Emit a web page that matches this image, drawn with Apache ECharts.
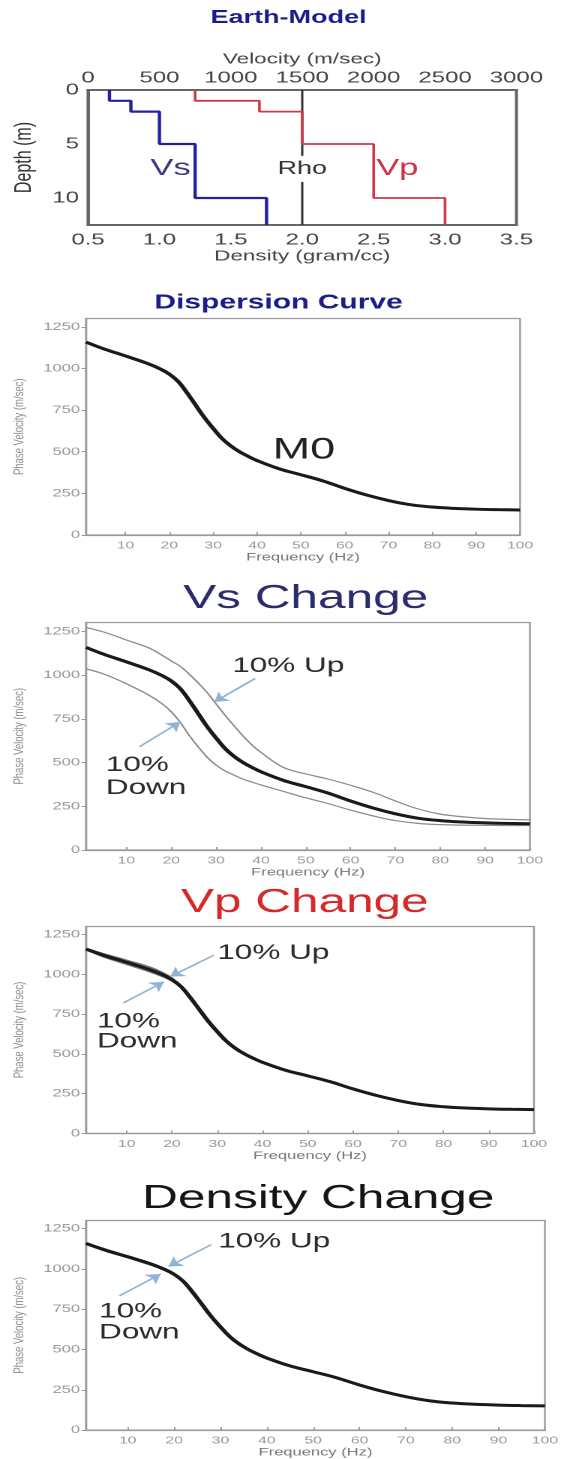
<!DOCTYPE html>
<html><head><meta charset="utf-8">
<script src="https://cdn.jsdelivr.net/npm/echarts@6/dist/echarts.min.js"></script>
<style>
html,body{margin:0;padding:0;background:#fff;overflow:hidden;}
#wrap{width:564px;height:1459px;overflow:hidden;}
#chart{width:376px;height:1459px;transform:scaleX(1.5);transform-origin:0 0;}
</style></head><body>
<div id="wrap"><div id="chart"></div></div>
<script>
// ---------- Earth model (layered) ----------
const depthTops = [0, 1, 2, 5, 10];
const depthBottom = 12.5;
const vsLayers = [150, 300, 500, 750, 1250];     // m/sec
const vpLayers = [750, 1200, 1500, 2000, 2500];  // m/sec
const rhoLayers = [2.0, 2.0, 2.0, 2.0, 2.0];     // gram/cc

// ---------- Dispersion curves ----------
const freq = [1,5,10,15,18,20,22,24,26,28,30,32,34,36,38,40,45,50,55,60,65,70,75,80,85,90,95,100];
const m0      = [1158,1118,1075,1030,996,966,922,855,780,705,640,580,535,500,472,447,398,362,325,280,240,207,182,168,160,155,152,150];
const vsUp    = [1272,1245,1200,1155,1112,1080,1050,1005,955,900,835,770,710,652,600,558,472,435,405,370,330,280,235,205,190,180,175,172];
const vsDown  = [1035,1005,950,885,835,790,730,655,590,530,485,452,428,405,388,372,335,298,265,228,195,168,152,145,142,141,140,140];
const vpUp    = [1162,1128,1088,1046,1010,976,926,857,781,705,640,580,535,500,472,447,398,362,325,280,240,207,182,168,160,155,152,150];
const vpDown  = [1155,1108,1062,1016,984,957,918,853,779,705,640,580,535,500,472,447,398,362,325,280,240,207,182,168,160,155,152,150];
const rhoUp   = [1162,1124,1080,1036,1001,970,924,856,780,705,640,580,535,500,472,447,398,362,325,280,240,207,182,168,160,155,152,150];
const rhoDown = [1154,1112,1070,1024,991,962,920,854,780,705,640,580,535,500,472,447,398,362,325,280,240,207,182,168,160,155,152,150];

const freqTicks = [10,20,30,40,50,60,70,80,90,100];

const FONT = '"Liberation Sans", Arial, sans-serif';
const plain = v => String(v);

function steps(vals) {
  const out = [];
  for (let i = 0; i < vals.length; i++) {
    const top = depthTops[i];
    const bot = i + 1 < depthTops.length ? depthTops[i + 1] : depthBottom;
    out.push([vals[i], top], [vals[i], bot]);
  }
  return out;
}
function pairs(vals) { return freq.map((f, i) => [f, vals[i]]); }

function freqAxis(g) {
  return {
    gridIndex: g, type: 'value', min: 1, max: 100,
    name: 'Frequency (Hz)', nameLocation: 'middle', nameGap: 14,
    nameTextStyle: {fontSize: 11, color: '#777', fontFamily: FONT},
    axisLine: {show: true, onZero: false, lineStyle: {color: '#999', width: 1.3}},
    axisTick: {show: true, inside: true, length: 3, customValues: freqTicks, lineStyle: {color: '#999'}},
    axisLabel: {fontSize: 10.5, color: '#999', margin: 5, fontFamily: FONT, customValues: freqTicks, formatter: plain},
    splitLine: {show: false}
  };
}
function phaseAxis(g) {
  return {
    gridIndex: g, type: 'value', min: 0, max: 1300, interval: 250,
    name: 'Phase Velocity (m/sec)', nameLocation: 'middle', nameGap: 34,
    nameTextStyle: {fontSize: 9.5, color: '#888', fontFamily: FONT},
    axisLine: {show: true, lineStyle: {color: '#999', width: 1.3}},
    axisTick: {show: true, length: 3, lineStyle: {color: '#999'}},
    axisLabel: {fontSize: 11, color: '#999', margin: 4, fontFamily: FONT, showMaxLabel: false, formatter: plain},
    splitLine: {show: false}
  };
}
const gridBox = {show: true, borderColor: '#999', borderWidth: 1.2, backgroundColor: '#fff'};

const arrowStyle = {color: '#8fb3d4', width: 1.5, type: 'solid'};
function arrows(list) {
  return {
    silent: true, animation: false, symbol: ['none', 'arrow'], symbolSize: 9,
    lineStyle: arrowStyle, itemStyle: {color: '#8fb3d4'}, label: {show: false}, emphasis: {disabled: true},
    data: list.map(a => [{coord: a[0]}, {coord: a[1]}])
  };
}
function notes(list) {
  return {
    silent: true, animation: false, symbol: 'circle', symbolSize: 0,
    data: list.map(n => ({
      coord: n.at, symbolSize: 0,
      label: {show: true, position: n.pos || 'right', distance: 0, formatter: n.text,
        fontSize: n.size || 21, lineHeight: n.lh || 24, color: n.color || '#2b2b2b',
        fontFamily: FONT, align: n.align || 'left', verticalAlign: 'middle',
        backgroundColor: n.bg || 'transparent', padding: n.pad || 0}
    }))
  };
}
function baseLine(g, vals, extra) {
  return Object.assign({
    type: 'line', xAxisIndex: g + 1, yAxisIndex: g, data: pairs(vals),
    showSymbol: false, smooth: 0.4, z: 4,
    lineStyle: {color: '#1a1a1a', width: 3}
  }, extra || {});
}
function thinLine(g, vals, color, w) {
  return {
    type: 'line', xAxisIndex: g + 1, yAxisIndex: g, data: pairs(vals),
    showSymbol: false, smooth: 0.4, z: 3,
    lineStyle: {color: color, width: w}
  };
}

const titles = [
  {text: 'Earth-Model', x: 192.4, y: 18, size: 18, weight: 'bold', color: '#1c1c8a'},
  {text: 'Dispersion Curve', x: 185.7, y: 303, size: 20, weight: 'bold', color: '#1c1c8a'},
  {text: 'Vs Change', x: 203.8, y: 599, size: 33, weight: 'normal', color: '#2b2b6e'},
  {text: 'Vp Change', x: 203.2, y: 903, size: 33, weight: 'normal', color: '#d42a2a'},
  {text: 'Density Change', x: 212.2, y: 1199, size: 33, weight: 'normal', color: '#151515'}
];

const option = {
  animation: false,
  backgroundColor: '#fff',
  graphic: titles.map(t => ({
    type: 'text', x: t.x, y: t.y, silent: true,
    style: {text: t.text, fontSize: t.size, fontWeight: t.weight, fontFamily: FONT,
      fill: t.color, align: 'center', verticalAlign: 'middle'}
  })),
  grid: [
    {left: 57.7, top: 90, width: 286.6, height: 135, show: true, borderColor: '#666', borderWidth: 2},
    Object.assign({left: 54.7, top: 318.5, width: 292, height: 216.5}, gridBox),
    Object.assign({left: 51.7, top: 622.5, width: 301.6, height: 227.5}, gridBox),
    Object.assign({left: 56.6, top: 926.5, width: 299.4, height: 207}, gridBox),
    Object.assign({left: 55.7, top: 1220.5, width: 307.6, height: 214}, gridBox)
  ],
  xAxis: [
    {gridIndex: 0, type: 'value', position: 'top', min: 0, max: 3000, interval: 500,
      name: 'Velocity (m/sec)', nameLocation: 'middle', nameGap: 23,
      nameTextStyle: {fontSize: 15, color: '#444', fontFamily: FONT},
      axisLine: {show: true, onZero: false, lineStyle: {color: '#666', width: 2}},
      axisTick: {show: false},
      axisLabel: {fontSize: 16, color: '#444', margin: 4, fontFamily: FONT, formatter: plain},
      splitLine: {show: false}},
    {gridIndex: 0, type: 'value', position: 'bottom', min: 0.5, max: 3.5, interval: 0.5,
      name: 'Density (gram/cc)', nameLocation: 'middle', nameGap: 23,
      nameTextStyle: {fontSize: 15, color: '#444', fontFamily: FONT},
      axisLine: {show: true, onZero: false, lineStyle: {color: '#666', width: 2}},
      axisTick: {show: false},
      axisLabel: {fontSize: 16, color: '#444', margin: 7, fontFamily: FONT, formatter: v => v.toFixed(1)},
      splitLine: {show: false}},
    freqAxis(1), freqAxis(2), freqAxis(3), freqAxis(4)
  ],
  yAxis: [
    {gridIndex: 0, type: 'value', inverse: true, min: 0, max: 12.5, interval: 5,
      name: 'Depth (m)', nameLocation: 'middle', nameGap: 23,
      nameTextStyle: {fontSize: 16, color: '#333', fontFamily: FONT},
      axisLine: {show: true, onZero: false, lineStyle: {color: '#666', width: 2}},
      axisTick: {show: false},
      axisLabel: {fontSize: 16, color: '#444', margin: 6, fontFamily: FONT, showMaxLabel: false, formatter: plain},
      splitLine: {show: false}},
    phaseAxis(1), phaseAxis(2), phaseAxis(3), phaseAxis(4)
  ],
  series: [
    // Earth model
    {type: 'line', xAxisIndex: 0, yAxisIndex: 0, data: steps(vsLayers), showSymbol: false,
      lineStyle: {color: '#2222a0', width: 2.2}, z: 3,
      markPoint: notes([{at: [578, 7.3], text: 'Vs', pos: 'inside', align: 'center', size: 23, color: '#3a3a82'}])},
    {type: 'line', xAxisIndex: 0, yAxisIndex: 0, data: steps(vpLayers), showSymbol: false,
      lineStyle: {color: '#cc3a4a', width: 1.8}, z: 3,
      markPoint: notes([{at: [2166, 7.3], text: 'Vp', pos: 'inside', align: 'center', size: 23, color: '#cc3344'}])},
    {type: 'line', xAxisIndex: 1, yAxisIndex: 0, data: steps(rhoLayers), showSymbol: false,
      lineStyle: {color: '#333', width: 1.5}, z: 2,
      markPoint: notes([{at: [2.0, 7.3], text: 'Rho', pos: 'inside', align: 'center', size: 18, color: '#333', bg: '#fff', pad: [1, 0]}])},

    // Dispersion curve
    baseLine(1, m0, {markPoint: notes([{at: [50.7, 508], text: 'M0', pos: 'inside', align: 'center', size: 30, color: '#222'}])}),

    // Vs change
    thinLine(2, vsUp, '#8a8a8a', 1.2),
    thinLine(2, vsDown, '#8a8a8a', 1.2),
    baseLine(2, m0, {
      markLine: arrows([[[38.7, 980], [29.6, 846]], [[12.9, 590], [22, 732]]]),
      markPoint: notes([{at: [33.6, 1050], text: '10% Up'}, {at: [5.4, 420], text: '10%\nDown', lh: 23}])
    }),

    // Vp change
    thinLine(3, vpUp, '#777', 1.5),
    thinLine(3, vpDown, '#777', 1.5),
    baseLine(3, m0, {
      markLine: arrows([[[29.2, 1119], [19.6, 985]], [[9.2, 820], [18.2, 952]]]),
      markPoint: notes([{at: [30, 1133], text: '10% Up'}, {at: [3.4, 640], text: '10%\nDown', lh: 20}])
    }),

    // Density change
    thinLine(4, rhoUp, '#666', 1.5),
    thinLine(4, rhoDown, '#666', 1.5),
    baseLine(4, m0, {
      markLine: arrows([[[28, 1150], [18.8, 1015]], [[8.2, 833], [17.1, 968]]]),
      markPoint: notes([{at: [29.5, 1170], text: '10% Up'}, {at: [3.8, 669], text: '10%\nDown', lh: 21}])
    })
  ]
};

const chart = echarts.init(document.getElementById('chart'), null, {renderer: 'canvas', devicePixelRatio: 2});
chart.setOption(option);
</script>
</body></html>
